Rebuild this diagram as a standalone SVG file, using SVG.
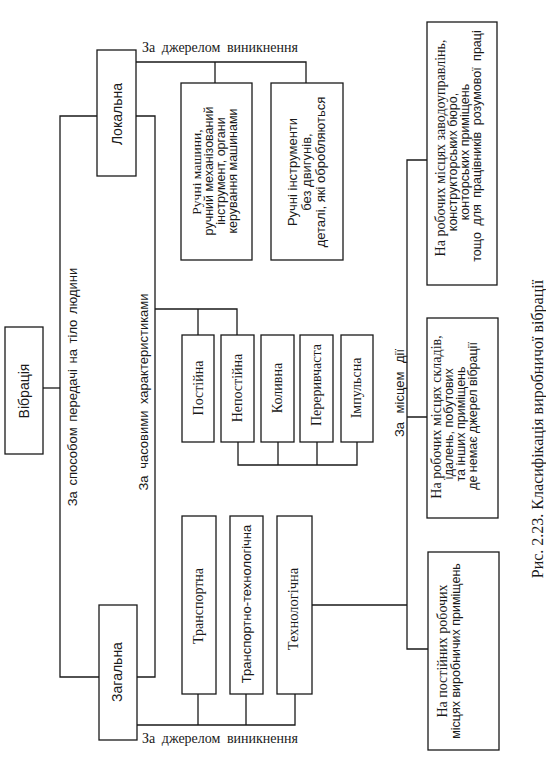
<svg xmlns="http://www.w3.org/2000/svg" width="546" height="764" viewBox="0 0 546 764">
<style>
.box{fill:#fff;stroke:#1a1a1a;stroke-width:1.3}
.ln{fill:none;stroke:#1a1a1a;stroke-width:1.3}
.s{font-family:"Liberation Sans","DejaVu Sans",sans-serif;fill:#1a1a1a;text-anchor:middle}
.r{font-family:"Liberation Serif","DejaVu Serif",serif;fill:#1a1a1a;text-anchor:middle}
</style>
<rect width="546" height="764" fill="#fff"/>
<g id="connectors">
<path class="ln" d="M43,388 H60"/>
<path class="ln" d="M97,116 H60 V677 H99"/>
<path class="ln" d="M136,116 H155 V677 H137"/>
<path class="ln" d="M136,62 H306 V83 M215,62 V83"/>
<path class="ln" d="M155,309 H237 V335 M198,309 V335"/>
<path class="ln" d="M238,442 V465 H357 V442 M278,442 V465 M317,442 V465"/>
<path class="ln" d="M137,725 H295 V694 M198,725 V694 M246,725 V694"/>
<path class="ln" d="M312,605 H407 M427,160 H407 V649 H428 M407,417 H427"/>
</g>
<g id="labels">
<text class="s" font-size="13" word-spacing="2" transform="translate(77,387) rotate(-90)">За способом  передачі на тіло людини</text>
<text class="s" font-size="13" word-spacing="3" transform="translate(148,392) rotate(-90)">За часовими характеристиками</text>
<text class="r" font-size="14" word-spacing="3" x="220" y="52">За джерелом виникнення</text>
<text class="r" font-size="14" word-spacing="3" x="220" y="743">За джерелом виникнення</text>
<text class="s" font-size="13" word-spacing="5" transform="translate(404,393) rotate(-90)">За місцем дії</text>
<text class="r" font-size="16" transform="translate(543,429) rotate(-90)">Рис. 2.23. Класифікація виробничої вібрації</text>
</g>
<g id="vibration">
<rect class="box" x="5" y="327" width="38" height="127"/>
<text class="s" font-size="14" transform="translate(29,391) rotate(-90)">Вібрація</text>
</g>
<g id="local">
<rect class="box" x="97" y="50" width="39" height="126"/>
<text class="s" font-size="14" transform="translate(122,114) rotate(-90)">Локальна</text>
</g>
<g id="general">
<rect class="box" x="99" y="605" width="38" height="135"/>
<text class="s" font-size="14" transform="translate(122,672) rotate(-90)">Загальна</text>
</g>
<g id="hand-machines">
<rect class="box" x="181" y="83" width="71" height="177"/>
<text class="r" font-size="13.5" transform="translate(201,172) rotate(-90)">Ручні машини,</text>
<text class="s" font-size="12.5" transform="translate(213,171) rotate(-90)">ручний механізований</text>
<text class="s" font-size="12.5" transform="translate(225,171) rotate(-90)">інструмент, органи</text>
<text class="s" font-size="12.5" transform="translate(237,171) rotate(-90)">керування машинами</text>
</g>
<g id="hand-tools">
<rect class="box" x="271" y="83" width="72" height="177"/>
<text class="s" font-size="13" transform="translate(297,172) rotate(-90)">Ручні інструменти</text>
<text class="s" font-size="13" transform="translate(311,172) rotate(-90)">без двигунів,</text>
<text class="s" font-size="13" transform="translate(325,172) rotate(-90)">деталі, які обробляються</text>
</g>
<g id="constant">
<rect class="box" x="182" y="335" width="32" height="107"/>
<text class="r" font-size="14" transform="translate(203,388) rotate(-90)">Постійна</text>
</g>
<g id="nonconstant">
<rect class="box" x="221" y="335" width="33" height="107"/>
<text class="r" font-size="14" transform="translate(242,388) rotate(-90)">Непостійна</text>
</g>
<g id="oscillating">
<rect class="box" x="261" y="335" width="33" height="107"/>
<text class="r" font-size="14" transform="translate(282,388) rotate(-90)">Коливна</text>
</g>
<g id="intermittent">
<rect class="box" x="300" y="335" width="33" height="107"/>
<text class="r" font-size="14" transform="translate(321,385) rotate(-90)">Переривчаста</text>
</g>
<g id="impulse">
<rect class="box" x="341" y="335" width="32" height="107"/>
<text class="r" font-size="14" transform="translate(361,388) rotate(-90)">Імпульсна</text>
</g>
<g id="transport">
<rect class="box" x="182" y="516" width="34" height="178"/>
<text class="r" font-size="14" transform="translate(203,606) rotate(-90)">Транспортна</text>
</g>
<g id="transport-tech">
<rect class="box" x="230" y="516" width="33" height="178"/>
<text class="s" font-size="13" transform="translate(251,604) rotate(-90)">Транспортно-технологічна</text>
</g>
<g id="technological">
<rect class="box" x="277" y="516" width="35" height="178"/>
<text class="r" font-size="14.5" transform="translate(298,609) rotate(-90)">Технологічна</text>
</g>
<g id="place-office">
<rect class="box" x="427" y="22" width="70" height="263"/>
<text class="r" font-size="14" transform="translate(445,148) rotate(-90)">На робочих місцях заводоуправлінь,</text>
<text class="s" font-size="12.5" transform="translate(457,162) rotate(-90)">конструкторських бюро,</text>
<text class="s" font-size="12.5" transform="translate(469,152) rotate(-90)">конторських приміщень</text>
<text class="s" font-size="12.5" word-spacing="3" transform="translate(481,146) rotate(-90)">тощо для працівників розумової праці</text>
</g>
<g id="place-storage">
<rect class="box" x="427" y="318" width="71" height="200"/>
<text class="r" font-size="14" transform="translate(441,417) rotate(-90)">На робочих місцях складів,</text>
<text class="s" font-size="12.5" transform="translate(453,424) rotate(-90)">їдалень, побутових</text>
<text class="s" font-size="12.5" transform="translate(465,424) rotate(-90)">та інших приміщень</text>
<text class="s" font-size="12.5" transform="translate(477,416) rotate(-90)">де немає джерел вібрації</text>
</g>
<g id="place-production">
<rect class="box" x="428" y="552" width="71" height="198"/>
<text class="r" font-size="14" transform="translate(447,651) rotate(-90)">На постійних робочих</text>
<text class="s" font-size="12.5" transform="translate(460,651) rotate(-90)">місцях виробничих приміщень</text>
</g>
</svg>
